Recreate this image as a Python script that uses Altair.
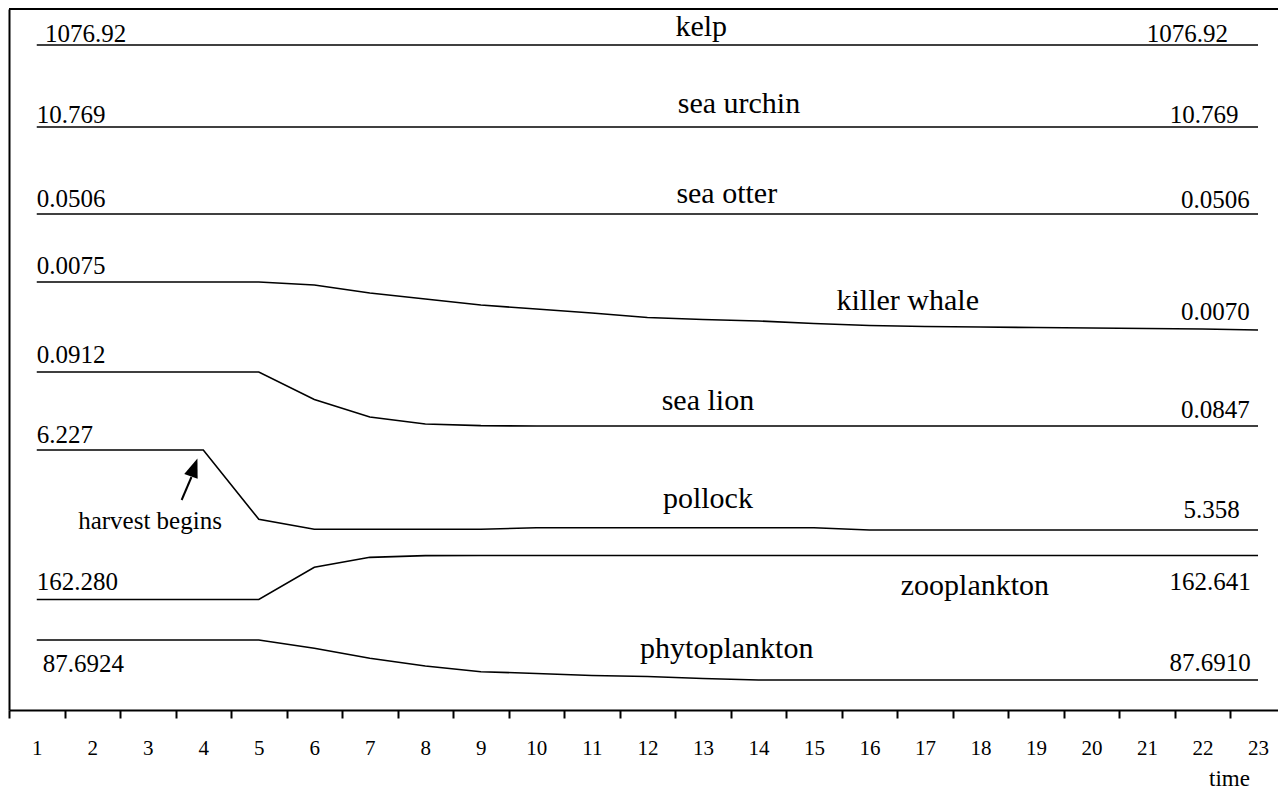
import altair as alt
import pandas as pd

# ---------------- data ----------------
times = list(range(1, 24))

species = ["kelp", "sea urchin", "sea otter", "killer whale",
           "sea lion", "pollock", "zooplankton", "phytoplankton"]

kelp = [1076.92, 1076.92, 1076.92, 1076.92, 1076.92, 1076.92, 1076.92, 1076.92,
        1076.92, 1076.92, 1076.92, 1076.92, 1076.92, 1076.92, 1076.92, 1076.92,
        1076.92, 1076.92, 1076.92, 1076.92, 1076.92, 1076.92, 1076.92]
sea_urchin = [10.769, 10.769, 10.769, 10.769, 10.769, 10.769, 10.769, 10.769,
              10.769, 10.769, 10.769, 10.769, 10.769, 10.769, 10.769, 10.769,
              10.769, 10.769, 10.769, 10.769, 10.769, 10.769, 10.769]
sea_otter = [0.0506, 0.0506, 0.0506, 0.0506, 0.0506, 0.0506, 0.0506, 0.0506,
             0.0506, 0.0506, 0.0506, 0.0506, 0.0506, 0.0506, 0.0506, 0.0506,
             0.0506, 0.0506, 0.0506, 0.0506, 0.0506, 0.0506, 0.0506]
killer_whale = [0.0075, 0.0075, 0.0075, 0.0075, 0.0075, 0.007469, 0.007385,
                0.007323, 0.007260, 0.007219, 0.007177, 0.007130, 0.007109,
                0.007094, 0.007068, 0.007047, 0.007036, 0.007031, 0.007026,
                0.007021, 0.007016, 0.007010, 0.0070]
sea_lion = [0.0912, 0.0912, 0.0912, 0.0912, 0.0912, 0.08789, 0.08578, 0.08494,
            0.08474, 0.0847, 0.0847, 0.0847, 0.0847, 0.0847, 0.0847, 0.0847,
            0.0847, 0.0847, 0.0847, 0.0847, 0.0847, 0.0847, 0.0847]
pollock = [6.227, 6.227, 6.227, 6.227, 5.474, 5.366, 5.366, 5.366, 5.366,
           5.383, 5.383, 5.383, 5.383, 5.383, 5.383, 5.358, 5.358, 5.358,
           5.358, 5.358, 5.358, 5.358, 5.358]
zooplankton = [162.280, 162.280, 162.280, 162.280, 162.280, 162.544, 162.626,
               162.640, 162.641, 162.641, 162.641, 162.641, 162.641, 162.641,
               162.641, 162.641, 162.641, 162.641, 162.641, 162.641, 162.641,
               162.641, 162.641]
phytoplankton = [87.6924, 87.6924, 87.6924, 87.6924, 87.6924, 87.69211,
                 87.69176, 87.69149, 87.69129, 87.69123, 87.69116, 87.69112,
                 87.69105, 87.6910, 87.6910, 87.6910, 87.6910, 87.6910,
                 87.6910, 87.6910, 87.6910, 87.6910, 87.6910]

series = [kelp, sea_urchin, sea_otter, killer_whale, sea_lion, pollock,
          zooplankton, phytoplankton]

start_labels = ["1076.92", "10.769", "0.0506", "0.0075", "0.0912", "6.227",
                "162.280", "87.6924"]
end_labels = ["1076.92", "10.769", "0.0506", "0.0070", "0.0847", "5.358",
              "162.641", "87.6910"]

# ---------------- layout (lane positions, label placement) ----------------
W, H = 1269, 701
X_MAX = 23.36          # right edge of the visible time range
BAND = W / (X_MAX - 0.5)
# depth of each lane (from top of plot) at first and last value
lane_first = [36, 118, 205, 273, 363, 441, 590.5, 631]
lane_last = [36, 118, 205, 321, 417, 521, 546.5, 671]

rows = []
for name, vals, d0, d1 in zip(species, series, lane_first, lane_last):
    v0, v1 = vals[0], vals[-1]
    for t, v in zip(times, vals):
        if v1 == v0:
            d = d0
        else:
            d = d0 + (v - v0) / (v1 - v0) * (d1 - d0)
        rows.append({"species": name, "time": t, "value": v, "depth": d})
df = pd.DataFrame(rows)

left_x = [1.15, 1.0, 1.0, 1.0, 1.0, 1.0, 1.0, 1.11]
left_d = [32.5, 113.5, 198, 265, 354, 434, 581, 662.5]
right_x = [22.46, 22.65, 22.85, 22.85, 22.85, 22.67, 22.87, 22.87]
right_d = [32.5, 113.5, 199, 311, 409, 509, 581, 662]
name_x = [12.97, 13.65, 13.43, 16.69, 13.09, 13.09, 17.90, 13.43]
name_d = [27, 104, 194, 301, 401, 499, 586, 649]

left_df = pd.DataFrame({"text": start_labels, "time": left_x, "depth": left_d})
right_df = pd.DataFrame({"text": end_labels, "time": right_x, "depth": right_d})
name_df = pd.DataFrame({"text": species, "time": name_x, "depth": name_d})
note_df = pd.DataFrame({"text": ["harvest begins"], "time": [3.04], "depth": [520]})
shaft_df = pd.DataFrame({"time": [3.61, 3.787], "depth": [491, 468]})
head_df = pd.DataFrame({"time": [3.836], "depth": [458.5]})

FONT = "Liberation Serif"

xscale = alt.Scale(domain=[0.5, X_MAX], nice=False, zero=False)
yscale = alt.Scale(domain=[0, H], reverse=True, nice=False, zero=False)

xaxis = alt.Axis(
    values=[i + 0.5 for i in range(23)],
    labelExpr="datum.value + 0.5",
    labelOffset=BAND / 2,
    tickSize=8, tickWidth=2, tickColor="black",
    domainColor="black", domainWidth=2,
    labelFont=FONT, labelFontSize=21, labelColor="black",
    labelPadding=19, labelFlush=False, labelOverlap=False, labelBound=False,
    grid=False,
    title="time", titleFont=FONT, titleFontSize=23, titleFontWeight="normal",
    titleColor="black", titleX=1220, titleY=75, titleBaseline="alphabetic",
    titleAlign="center",
)
yaxis = alt.Axis(domain=True, domainColor="black", domainWidth=2,
                 ticks=False, labels=False, grid=False, title=None)


def X():
    return alt.X("time:Q", scale=xscale, axis=xaxis)


def Y():
    return alt.Y("depth:Q", scale=yscale, axis=yaxis)


lines = alt.Chart(df).mark_line(color="black", strokeWidth=1.6).encode(
    x=X(), y=Y(), detail="species:N")

left_txt = alt.Chart(left_df).mark_text(
    align="left", baseline="alphabetic", font=FONT, fontSize=25, color="black"
).encode(x=X(), y=Y(), text="text:N")

right_txt = alt.Chart(right_df).mark_text(
    align="right", baseline="alphabetic", font=FONT, fontSize=25, color="black"
).encode(x=X(), y=Y(), text="text:N")

name_txt = alt.Chart(name_df).mark_text(
    align="center", baseline="alphabetic", font=FONT, fontSize=30, color="black"
).encode(x=X(), y=Y(), text="text:N")

note_txt = alt.Chart(note_df).mark_text(
    align="center", baseline="alphabetic", font=FONT, fontSize=25, color="black"
).encode(x=X(), y=Y(), text="text:N")

shaft = alt.Chart(shaft_df).mark_line(color="black", strokeWidth=2).encode(
    x=X(), y=Y())

head = alt.Chart(head_df).mark_point(
    shape="M0,-1 L0.75,1 L-0.75,1 Z", size=361, angle=20, filled=True,
    color="black", opacity=1, strokeWidth=0
).encode(x=X(), y=Y())

top_border = alt.Chart(pd.DataFrame({"a": [0]})).mark_rule(
    color="black", strokeWidth=2
).encode(x=alt.value(0), x2=alt.value(W), y=alt.value(0))

chart = alt.layer(
    lines, left_txt, right_txt, name_txt, note_txt, shaft, head, top_border
).properties(
    width=W, height=H,
    padding={"left": 1, "top": 1, "right": 0, "bottom": 82},
    autosize=alt.AutoSizeParams(type="none"),
    background="white",
).configure_view(stroke=None)

chart.save("out.html", embed_options={"renderer": "svg", "actions": False})
